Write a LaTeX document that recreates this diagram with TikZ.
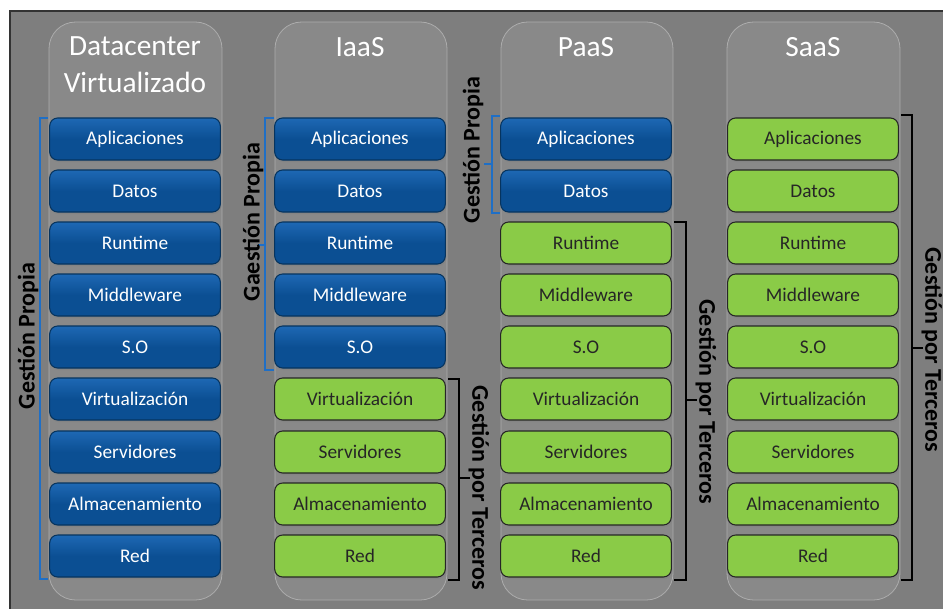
\documentclass[tikz,border=0pt]{standalone}
\usepackage{fontspec}
\setmainfont{Carlito}
\usetikzlibrary{shadows}

\definecolor{fondo}{HTML}{7E7E7E}
\definecolor{columna}{HTML}{898989}
\definecolor{azulcapa}{HTML}{0B4F93}
\definecolor{azulclaro}{HTML}{1E68B4}
\definecolor{azulborde}{HTML}{06345F}
\definecolor{verdecapa}{HTML}{8ACB47}
\definecolor{llave}{HTML}{1F6FC6}

\tikzset{
  propia/.style={rectangle, rounded corners=6pt, minimum width=128pt, minimum height=31.5pt,
    top color=azulclaro, bottom color=azulcapa, middle color=azulcapa, draw=azulborde, line width=0.8pt,
    text=white, font=\fontsize{14.5}{16}\selectfont,
    drop shadow={shadow xshift=0.8pt, shadow yshift=-1.5pt, opacity=0.45}},
  terceros/.style={rectangle, rounded corners=6pt, minimum width=128pt, minimum height=31.5pt,
    fill=verdecapa, draw=black!85, line width=0.8pt,
    text=black!85, font=\fontsize{14.5}{16}\selectfont,
    drop shadow={shadow xshift=0.8pt, shadow yshift=-1.5pt, opacity=0.35}},
  titulo/.style={text=white, font=\fontsize{22}{28}\selectfont, align=center},
  etiq/.style={text=black, font=\fontsize{18}{20}\selectfont\bfseries},
  azul/.style={draw=llave, line width=1.2pt},
  negra/.style={draw=black, line width=1.2pt}
}

\begin{document}
\begin{tikzpicture}[x=0.75pt,y=-0.75pt]
	\useasboundingbox (0,0) rectangle (943,608);
	% panel y columnas
	\fill[white] (0,0) rectangle (943,608);
	\filldraw[fill=fondo, draw=black!80, line width=1.2pt] (10,11) rectangle (950,615);
	\filldraw[fill=columna, draw=white!30!columna, line width=0.6pt, rounded corners=20pt] (49,22) rectangle (222,600);
	\filldraw[fill=columna, draw=white!30!columna, line width=0.6pt, rounded corners=20pt] (275,22) rectangle (447,600);
	\filldraw[fill=columna, draw=white!30!columna, line width=0.6pt, rounded corners=20pt] (501,22) rectangle (673,600);
	\filldraw[fill=columna, draw=white!30!columna, line width=0.6pt, rounded corners=20pt] (727,22) rectangle (900,600);
	% titulos
	\node[titulo] (t1) at (135,65) {Datacenter\\Virtualizado};
	\node[titulo] (t2) at (360,47) {IaaS};
	\node[titulo] (t3) at (586,47) {PaaS};
	\node[titulo] (t4) at (813,47) {SaaS};
	% Datacenter Virtualizado
	\node[propia] (a1) at (135,139) {Aplicaciones};
	\node[propia] (a2) at (135,191) {Datos};
	\node[propia] (a3) at (135,243) {Runtime};
	\node[propia] (a4) at (135,295) {Middleware};
	\node[propia] (a5) at (135,347) {S.O};
	\node[propia] (a6) at (135,399) {Virtualización};
	\node[propia] (a7) at (135,452) {Servidores};
	\node[propia] (a8) at (135,504) {Almacenamiento};
	\node[propia] (a9) at (135,556) {Red};
	% IaaS
	\node[propia] (b1) at (360,139) {Aplicaciones};
	\node[propia] (b2) at (360,191) {Datos};
	\node[propia] (b3) at (360,243) {Runtime};
	\node[propia] (b4) at (360,295) {Middleware};
	\node[propia] (b5) at (360,347) {S.O};
	\node[terceros] (b6) at (360,399) {Virtualización};
	\node[terceros] (b7) at (360,452) {Servidores};
	\node[terceros] (b8) at (360,504) {Almacenamiento};
	\node[terceros] (b9) at (360,556) {Red};
	% PaaS
	\node[propia] (c1) at (586,139) {Aplicaciones};
	\node[propia] (c2) at (586,191) {Datos};
	\node[terceros] (c3) at (586,243) {Runtime};
	\node[terceros] (c4) at (586,295) {Middleware};
	\node[terceros] (c5) at (586,347) {S.O};
	\node[terceros] (c6) at (586,399) {Virtualización};
	\node[terceros] (c7) at (586,452) {Servidores};
	\node[terceros] (c8) at (586,504) {Almacenamiento};
	\node[terceros] (c9) at (586,556) {Red};
	% SaaS
	\node[terceros] (d1) at (813,139) {Aplicaciones};
	\node[terceros] (d2) at (813,191) {Datos};
	\node[terceros] (d3) at (813,243) {Runtime};
	\node[terceros] (d4) at (813,295) {Middleware};
	\node[terceros] (d5) at (813,347) {S.O};
	\node[terceros] (d6) at (813,399) {Virtualización};
	\node[terceros] (d7) at (813,452) {Servidores};
	\node[terceros] (d8) at (813,504) {Almacenamiento};
	\node[terceros] (d9) at (813,556) {Red};
	% llaves
	\draw[azul] (48,118) -- (40,118) -- (40,579) -- (48,579);
	\draw[azul] (274,118) -- (265,118) -- (265,370) -- (274,370);
	\draw[azul] (265,245) -- (258,245);
	\draw[azul] (500,116) -- (492,116) -- (492,213) -- (500,213);
	\draw[azul] (492,164) -- (484,164);
	\draw[negra] (448,379) -- (459,379) -- (459,580) -- (448,580);
	\draw[negra] (459,478) -- (470,478);
	\draw[negra] (674,222) -- (686,222) -- (686,580) -- (674,580);
	\draw[negra] (686,400) -- (697,400);
	\draw[negra] (901,115) -- (912,115) -- (912,580) -- (901,580);
	\draw[negra] (912,348) -- (923,348);
	% etiquetas
	\node[etiq, rotate=90] (e1) at (28,336) {Gestión Propia};
	\node[etiq, rotate=90] (e2) at (253,222) {Gaestión Propia};
	\node[etiq, rotate=90] (e3) at (473,150) {Gestión Propia};
	\node[etiq, rotate=-90] (e4) at (479,488) {Gestión por Terceros};
	\node[etiq, rotate=-90] (e5) at (706,402) {Gestión por Terceros};
	\node[etiq, rotate=-90] (e6) at (932,350) {Gestión por Terceros};
\end{tikzpicture}
\end{document}
